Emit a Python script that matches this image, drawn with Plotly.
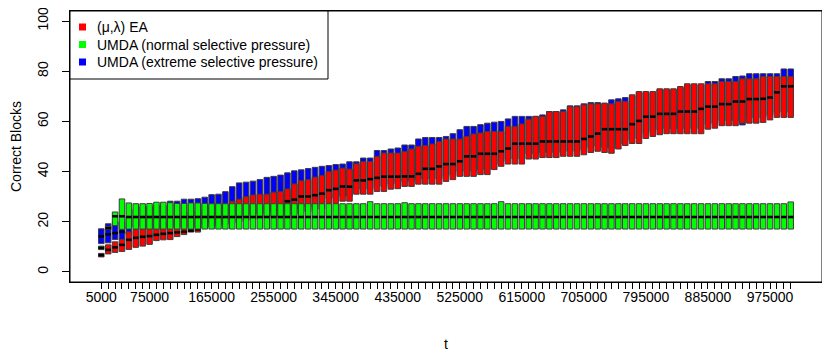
import plotly.graph_objects as go

# ---------------- data ----------------
t_values = list(range(5000, 1005001, 10000))          # 101 sampling points
t_labels = [str(v) for v in t_values]
shown_labels = ["5000", "75000", "165000", "255000", "345000", "435000",
                "525000", "615000", "705000", "795000", "885000", "975000"]

# (mu,lambda) EA  -- red
red_q1 = [6.0, 7.2, 7.8, 8.2, 9.0, 9.8, 10.3, 11.0, 12.5, 12.8,
          12.9, 14.1, 14.9, 15.9, 15.9, 17.5, 18.0, 18.5, 19.0, 19.5,
          20.0, 20.5, 21.0, 21.0, 21.5, 22.0, 22.0, 22.5, 23.0, 24.0,
          24.0, 25.0, 25.0, 27.3, 27.3, 28.2, 28.2, 31.0, 31.0, 31.0,
          32.1, 32.1, 33.0, 33.2, 34.1, 34.1, 35.0, 35.0, 35.0, 35.0,
          36.1, 36.8, 38.1, 38.1, 38.1, 38.8, 38.8, 40.8, 42.1, 43.0,
          43.0, 43.0, 45.0, 45.0, 45.6, 45.6, 45.6, 46.1, 46.1, 46.1,
          46.7, 47.6, 48.1, 47.6, 47.3, 49.0, 50.4, 51.2, 51.2, 53.2,
          54.0, 54.7, 55.1, 55.1, 55.1, 55.1, 55.1, 55.1, 56.9, 57.3,
          58.3, 58.3, 58.3, 59.3, 59.3, 59.3, 59.6, 60.6, 61.6, 61.6, 61.6]
red_med = [6.7, 8.8, 9.8, 10.8, 12.8, 13.6, 14.0, 14.3, 14.8, 15.2,
           15.5, 15.8, 16.0, 16.5, 17.0, 19.5, 20.5, 21.0, 21.5, 22.0,
           22.5, 23.0, 23.5, 24.0, 24.5, 25.0, 26.0, 28.2, 28.8, 30.1,
           30.1, 30.6, 31.2, 32.6, 33.1, 34.1, 34.0, 36.5, 36.5, 37.0,
           37.5, 38.0, 38.0, 38.0, 38.1, 38.1, 39.1, 41.1, 41.1, 42.1,
           43.0, 43.0, 44.1, 46.1, 46.1, 47.1, 47.1, 47.1, 48.1, 49.2,
           51.1, 51.1, 51.1, 51.1, 52.0, 52.0, 52.0, 52.0, 52.0, 52.0,
           53.0, 54.0, 55.1, 56.9, 56.9, 56.9, 56.9, 58.9, 60.2, 61.9,
           61.9, 63.0, 63.0, 63.0, 63.9, 63.9, 63.9, 65.0, 65.9, 65.9,
           66.9, 66.9, 67.9, 67.9, 68.9, 68.9, 69.0, 69.5, 71.6, 74.0, 74.0]
red_q3 = [7.4, 10.8, 12.0, 13.0, 16.0, 17.0, 17.5, 18.0, 19.0, 20.0,
          21.0, 22.0, 23.0, 24.0, 24.5, 25.0, 26.0, 26.5, 27.0, 28.2,
          29.0, 30.0, 30.7, 31.0, 31.0, 31.8, 32.1, 33.1, 35.1, 36.4,
          36.8, 37.8, 38.5, 40.0, 40.6, 41.4, 41.0, 43.1, 44.0, 44.0,
          46.0, 47.4, 47.4, 47.4, 48.0, 49.0, 50.1, 50.4, 51.0, 52.0,
          53.0, 53.0, 53.0, 54.0, 55.0, 55.4, 56.0, 56.0, 56.0, 58.0,
          58.0, 59.0, 60.9, 62.0, 62.0, 63.9, 63.9, 63.9, 65.9, 65.9,
          66.6, 67.0, 67.0, 67.3, 67.0, 68.0, 68.0, 70.6, 71.9, 71.9,
          71.9, 73.0, 73.0, 73.0, 73.9, 75.0, 75.0, 75.0, 75.0, 75.0,
          75.9, 75.9, 75.9, 77.0, 77.0, 77.0, 77.9, 77.9, 77.9, 77.9, 77.9]

# UMDA (normal selective pressure) -- green
green_q1 = [8.9, 16.9, 18.5, 17.0, 17.1, 17.1, 17.1, 17.1, 17.1, 17.1,
            17.1, 17.1, 17.1, 17.1, 17.1, 17.1, 17.1, 17.1, 17.1, 17.1,
            17.1, 17.1, 17.1, 17.1, 17.1, 17.1, 17.1, 17.1, 17.1, 17.1,
            17.1, 17.1, 17.1, 17.1, 17.1, 17.1, 17.1, 17.1, 17.1, 17.1,
            17.1, 17.1, 17.1, 17.1, 17.1, 17.1, 17.1, 17.1, 17.1, 17.1,
            17.1, 17.1, 17.1, 17.1, 17.1, 17.1, 17.1, 17.1, 17.1, 17.1,
            17.1, 17.1, 17.1, 17.1, 17.1, 17.1, 17.1, 17.1, 17.1, 17.1,
            17.1, 17.1, 17.1, 17.1, 17.1, 17.1, 17.1, 17.1, 17.1, 17.1,
            17.1, 17.1, 17.1, 17.1, 17.1, 17.1, 17.1, 17.1, 17.1, 17.1,
            17.1, 17.1, 17.1, 17.1, 17.1, 17.1, 17.1, 17.1, 17.1, 17.1, 17.1]
green_med = [9.6, 17.5, 22.2, 22.2, 21.9, 21.9, 21.9, 21.9, 21.9, 21.9,
             21.9, 21.9, 21.9, 21.9, 21.9, 21.9, 21.9, 21.9, 21.9, 21.9,
             21.9, 21.9, 21.9, 21.9, 21.9, 21.9, 21.9, 21.9, 21.9, 21.9,
             21.9, 21.9, 21.9, 21.9, 21.9, 21.9, 21.9, 21.9, 21.9, 21.9,
             21.9, 21.9, 21.9, 21.9, 21.9, 21.9, 21.9, 21.9, 21.9, 21.9,
             21.9, 21.9, 21.9, 21.9, 21.9, 21.9, 21.9, 21.9, 21.9, 21.9,
             21.9, 21.9, 21.9, 21.9, 21.9, 21.9, 21.9, 21.9, 21.9, 21.9,
             21.9, 21.9, 21.9, 21.9, 21.9, 21.9, 21.9, 21.9, 21.9, 21.9,
             21.9, 21.9, 21.9, 21.9, 21.9, 21.9, 21.9, 21.9, 21.9, 21.9,
             21.9, 21.9, 21.9, 21.9, 21.9, 21.9, 21.9, 21.9, 21.9, 21.9, 21.9]
green_q3 = [10.3, 18.2, 23.9, 29.1, 27.5, 27.2, 27.2, 27.3, 27.8, 27.8,
            27.6, 27.3, 27.3, 27.5, 27.5, 27.3, 27.2, 27.2, 27.2, 27.2,
            27.2, 27.2, 27.2, 27.2, 27.2, 27.2, 27.2, 27.2, 27.2, 27.2,
            27.2, 27.2, 27.2, 27.2, 27.2, 27.2, 27.2, 27.2, 27.2, 28.0,
            27.2, 27.2, 27.2, 27.2, 27.6, 27.2, 27.2, 27.2, 27.2, 27.2,
            27.2, 27.2, 27.2, 27.2, 27.2, 27.2, 27.2, 27.2, 28.0, 27.2,
            27.2, 27.2, 27.2, 27.2, 27.2, 27.2, 27.2, 27.2, 27.2, 27.2,
            27.2, 27.2, 27.2, 27.2, 27.2, 27.2, 27.2, 27.2, 27.2, 27.2,
            27.2, 27.2, 27.2, 27.2, 27.2, 27.2, 27.2, 27.2, 27.2, 27.2,
            27.2, 27.2, 27.2, 27.2, 27.2, 27.2, 27.2, 27.2, 27.2, 27.2, 27.9]

# UMDA (extreme selective pressure) -- blue
blue_q1 = [11.3, 11.6, 12.9, 12.9, 15.0, 18.0, 18.0, 18.0, 18.0, 18.0,
           18.0, 18.0, 18.0, 18.0, 18.0, 19.0, 19.5, 20.0, 21.0, 21.5,
           22.0, 22.5, 23.0, 23.0, 23.5, 24.0, 24.0, 24.5, 25.0, 26.0,
           26.0, 27.0, 27.0, 29.3, 29.3, 30.2, 30.2, 33.0, 33.0, 33.0,
           34.1, 34.1, 35.0, 35.2, 36.1, 36.1, 37.0, 37.0, 37.0, 37.0,
           38.1, 38.8, 40.1, 40.1, 40.1, 40.8, 40.8, 42.8, 44.1, 45.0,
           45.0, 45.0, 47.0, 47.0, 47.6, 47.6, 47.6, 48.1, 48.1, 48.1,
           48.7, 49.6, 50.1, 49.6, 49.3, 51.0, 52.4, 53.2, 53.2, 55.2,
           56.0, 56.7, 57.1, 57.1, 57.1, 57.1, 57.1, 57.1, 58.9, 59.3,
           60.3, 60.3, 60.3, 58.6, 61.3, 61.3, 61.6, 62.6, 63.6, 63.6, 63.6]
blue_med = [14.2, 15.0, 15.5, 16.0, 18.0, 22.0, 22.0, 22.0, 22.0, 22.0,
            22.0, 22.0, 22.5, 22.5, 23.0, 23.0, 23.5, 23.5, 24.0, 24.0,
            24.5, 25.0, 25.5, 26.0, 26.5, 27.0, 28.0, 30.2, 30.8, 32.1,
            32.1, 32.6, 33.2, 34.6, 35.1, 36.1, 36.0, 38.5, 38.5, 39.0,
            39.5, 40.0, 40.0, 40.0, 40.1, 40.1, 41.1, 43.1, 43.1, 44.1,
            45.0, 45.0, 46.1, 48.1, 48.1, 49.1, 49.1, 49.1, 50.1, 51.2,
            53.1, 53.1, 53.1, 53.1, 54.0, 54.0, 54.0, 54.0, 54.0, 54.0,
            55.0, 56.0, 57.1, 58.9, 58.9, 58.9, 58.9, 60.9, 62.2, 63.9,
            63.9, 65.0, 65.0, 65.0, 65.9, 65.9, 65.9, 67.0, 67.9, 67.9,
            68.9, 68.9, 69.9, 69.9, 70.9, 70.9, 71.0, 71.5, 73.6, 76.0, 76.0]
blue_q3 = [17.2, 19.2, 20.0, 20.0, 22.0, 25.0, 26.0, 26.0, 26.5, 26.5,
           28.2, 28.2, 29.0, 29.0, 29.2, 29.8, 30.8, 31.0, 32.0, 34.0,
           35.5, 35.8, 36.2, 36.8, 37.7, 38.1, 38.6, 39.5, 40.3, 40.7,
           41.2, 41.7, 42.1, 42.4, 42.8, 43.0, 43.9, 43.9, 45.4, 45.4,
           48.4, 48.4, 49.0, 49.4, 50.6, 50.6, 53.0, 53.6, 53.6, 53.6,
           54.0, 55.1, 56.7, 58.0, 58.0, 58.7, 59.3, 59.7, 60.0, 61.0,
           62.0, 62.0, 62.0, 62.0, 62.6, 63.9, 63.9, 64.6, 66.2, 66.2,
           67.0, 67.5, 67.5, 66.8, 68.6, 69.0, 69.5, 70.0, 71.4, 71.4,
           71.4, 72.5, 72.5, 72.5, 73.4, 74.5, 74.5, 74.5, 75.9, 75.9,
           77.0, 77.0, 77.9, 78.1, 79.0, 79.0, 79.0, 79.0, 79.0, 80.9, 80.9]

series = [  # drawing order: blue (back), red, green (front)
    ("UMDA (extreme selective pressure)", "#0000FF", blue_q1, blue_med, blue_q3),
    ("(\u03bc,\u03bb) EA", "#FF0000", red_q1, red_med, red_q3),
    ("UMDA (normal selective pressure)", "#00FF00", green_q1, green_med, green_q3),
]
legend_order = ["(\u03bc,\u03bb) EA", "UMDA (normal selective pressure)",
                "UMDA (extreme selective pressure)"]

FONT = "Liberation Sans, Arial, Helvetica, sans-serif"
XR = [-4.54, 104.54]
YR = [-4, 104]

fig = go.Figure()
axis_ids = ["", "2", "3"]
for (name, col, q1, med, q3), aid in zip(series, axis_ids):
    fig.add_trace(go.Box(
        x=t_labels, q1=q1, median=med, q3=q3, lowerfence=q1, upperfence=q3,
        name=name, fillcolor=col, line=dict(color="#3c3c3c", width=1),
        whiskerwidth=0, width=0.8, boxpoints=False, showlegend=False,
        xaxis="x" + aid, yaxis="y" + aid, hoverinfo="skip"))
    fig.add_trace(go.Scatter(
        x=t_labels, y=med, mode="markers",
        marker=dict(symbol="line-ew", size=3.9, color="black",
                    line=dict(color="black", width=2.6)),
        showlegend=False, hoverinfo="skip", xaxis="x" + aid, yaxis="y" + aid))

# plot frame + legend (framed box in the top-left corner of the plot area)
colors = {s[0]: s[1] for s in series}
PW, PH = 752.0, 271.0          # plot-area size in px
shapes = [dict(type="rect", xref="paper", yref="paper", x0=0, x1=1, y0=0, y1=1,
               line=dict(color="black", width=1), layer="above"),
          dict(type="rect", xref="paper", yref="paper",
               x0=0, x1=258 / PW, y0=1, y1=1 - 68 / PH,
               line=dict(color="black", width=1), fillcolor="white", layer="above")]
annotations = []
for i, name in enumerate(legend_order):
    yc = 1 - (16 + 17.5 * i) / PH
    shapes.append(dict(type="rect", xref="paper", yref="paper",
                       x0=9 / PW, x1=16 / PW, y0=yc - 3.5 / PH, y1=yc + 3.5 / PH,
                       line=dict(width=0), fillcolor=colors[name], layer="above"))
    annotations.append(dict(xref="paper", yref="paper", x=25 / PW, y=yc,
                            xanchor="left", yanchor="middle", showarrow=False,
                            text=name, font=dict(size=14, family=FONT, color="black")))

tick_text = [lab if lab in shown_labels else "" for lab in t_labels]
cat_axis = dict(type="category", categoryorder="array", categoryarray=t_labels,
                range=XR, automargin=False)

# page body adds an 8px offset; margins compensate so the plot box sits at
# x 70..822, y 11..282 in the window
fig.update_layout(
    width=830, height=353, autosize=False,
    margin=dict(l=62, r=16, t=3, b=79),
    paper_bgcolor="white", plot_bgcolor="white",
    font=dict(family=FONT, size=14, color="black"),
    boxmode="overlay", showlegend=False,
    shapes=shapes, annotations=annotations,
    xaxis=dict(**cat_axis, tickmode="array", tickvals=t_labels, ticktext=tick_text,
               tickangle=0,
               ticks="outside", ticklen=6, tickwidth=1, tickcolor="black",
               ticklabelstandoff=-4,
               showline=True, linecolor="black", linewidth=1, mirror=True,
               showgrid=False, zeroline=False,
               tickfont=dict(size=14, family=FONT, color="black"),
               title=dict(text="t", standoff=35, font=dict(size=14, family=FONT))),
    yaxis=dict(range=YR, tickmode="array", tickvals=[0, 20, 40, 60, 80, 100],
               automargin=False, ticklabeloverflow="allow",
               tickangle=-90, ticks="outside", ticklen=7, tickwidth=1,
               tickcolor="black", showline=True, linecolor="black", linewidth=1,
               mirror=True, showgrid=False, zeroline=False,
               ticklabelstandoff=8,
               tickfont=dict(size=14, family=FONT, color="black"),
               title=dict(text="Correct Blocks", standoff=27,
                          font=dict(size=14, family=FONT))),
    xaxis2=dict(**cat_axis, overlaying="x", visible=False),
    yaxis2=dict(range=YR, overlaying="y", visible=False, automargin=False),
    xaxis3=dict(**cat_axis, overlaying="x", visible=False),
    yaxis3=dict(range=YR, overlaying="y", visible=False, automargin=False),
)

fig.write_html("out.html")
